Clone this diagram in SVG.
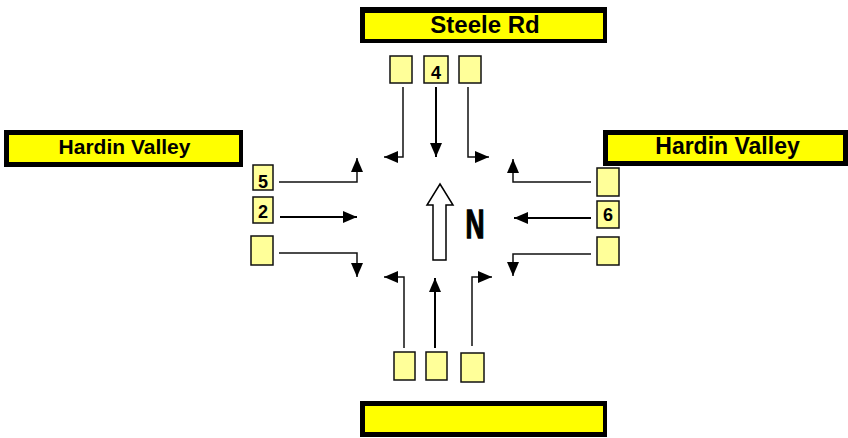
<svg xmlns="http://www.w3.org/2000/svg" width="848" height="438" viewBox="0 0 848 438">
<style>
.lbl-o{fill:#000}
.lbl-i{fill:#FFFF00}
.lbl-t{font-family:"Liberation Sans",Arial,sans-serif;font-weight:bold;fill:#000;text-anchor:middle}
.lane{fill:#FFFF99;stroke:#111;stroke-width:1.5}
.num{font-family:"Liberation Sans",Arial,sans-serif;font-weight:bold;font-size:18px;fill:#000;text-anchor:middle}
.turn{fill:none;stroke:#111;stroke-width:1.5;marker-end:url(#ah)}
.thru{fill:none;stroke:#000;stroke-width:2;marker-end:url(#ah)}
</style>
<defs>
<marker id="ah" markerUnits="userSpaceOnUse" markerWidth="14" markerHeight="12" refX="14" refY="6" orient="auto">
<path d="M0,0 L14,6 L0,12 z" fill="#000"/>
</marker>
</defs>
<rect width="848" height="438" fill="#fff"/>
<g id="label-steele">
<rect class="lbl-o" x="360" y="7" width="247" height="36"/>
<rect class="lbl-i" x="365" y="13" width="238" height="26"/>
<text class="lbl-t" x="485" y="33" font-size="24">Steele Rd</text>
</g>
<g id="label-hardin-west">
<rect class="lbl-o" x="4" y="130" width="239" height="37"/>
<rect class="lbl-i" x="9" y="135" width="230" height="27"/>
<text class="lbl-t" x="124.5" y="154" font-size="21">Hardin Valley</text>
</g>
<g id="label-hardin-east">
<rect class="lbl-o" x="603" y="130" width="245" height="36"/>
<rect class="lbl-i" x="608" y="135" width="235" height="26"/>
<text class="lbl-t" x="727.5" y="154" font-size="23">Hardin Valley</text>
</g>
<g id="label-south">
<rect class="lbl-o" x="360" y="401" width="247" height="36"/>
<rect class="lbl-i" x="365" y="406" width="238" height="26"/>
</g>
<g id="lanes-north">
<rect class="lane" x="390" y="56" width="22" height="27"/>
<rect class="lane" x="424" y="56" width="24" height="27"/>
<text class="num" x="436" y="79">4</text>
<rect class="lane" x="459" y="56" width="22" height="27"/>
</g>
<g id="lanes-west">
<rect class="lane" x="253" y="165" width="20" height="25"/>
<text class="num" x="263" y="188">5</text>
<rect class="lane" x="253" y="197" width="20" height="26"/>
<text class="num" x="263" y="218">2</text>
<rect class="lane" x="251" y="236" width="22" height="29"/>
</g>
<g id="lanes-east">
<rect class="lane" x="597" y="168" width="22" height="28"/>
<rect class="lane" x="597" y="201" width="22" height="27"/>
<text class="num" x="608" y="221">6</text>
<rect class="lane" x="597" y="237" width="22" height="28"/>
</g>
<g id="lanes-south">
<rect class="lane" x="394" y="352" width="21" height="28"/>
<rect class="lane" x="426" y="352" width="21" height="28"/>
<rect class="lane" x="461" y="353" width="23" height="29"/>
</g>
<g id="north-arrow">
<path d="M440,184 L453,205 L446,205 L446,260 L433,260 L433,205 L427,205 z" fill="#fff" stroke="#000" stroke-width="1.5"/>
<text x="475" y="238" font-family="'Liberation Sans',Arial,sans-serif" font-weight="bold" font-size="41" text-anchor="middle" stroke="#000" stroke-width="1.4" textLength="19" lengthAdjust="spacingAndGlyphs">N</text>
</g>
<g id="connectors">
<path class="turn" d="M403,87 V157 H384"/>
<path class="thru" d="M436,87 V157"/>
<path class="turn" d="M468,87 V157 H489"/>
<path class="turn" d="M279,182 H357 V158"/>
<path class="thru" d="M280,217 H357"/>
<path class="turn" d="M279,253 H357 V277"/>
<path class="turn" d="M591,182 H513 V159"/>
<path class="thru" d="M591,218 H514"/>
<path class="turn" d="M591,254 H513 V276"/>
<path class="turn" d="M404,348 V277 H384"/>
<path class="thru" d="M435,348 V278"/>
<path class="turn" d="M472,346 V277 H492"/>
</g>
</svg>
